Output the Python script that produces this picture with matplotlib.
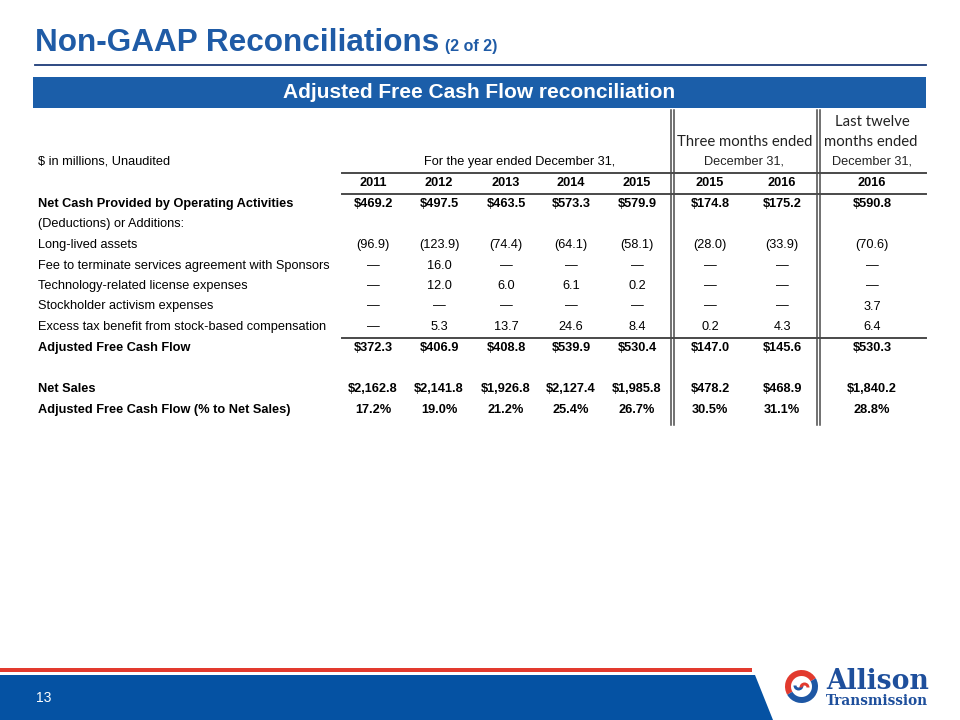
import matplotlib
matplotlib.use("Agg")
import matplotlib.pyplot as plt
from matplotlib.patches import Rectangle, Polygon, Wedge

# ---------------- data ----------------
title = "Non-GAAP Reconciliations"
subtitle = "(2 of 2)"
banner = "Adjusted Free Cash Flow reconciliation"
units_label = "$ in millions, Unaudited"
group_year = "For the year ended December 31,"
group_q_top = "Three months ended"
group_ltm_top = ["Last twelve", "months ended"]
group_date = "December 31,"

col_years = ["2011", "2012", "2013", "2014", "2015", "2015", "2016", "2016"]

row_labels = [
    "Net Cash Provided by Operating Activities",
    "(Deductions) or Additions:",
    "Long-lived assets",
    "Fee to terminate services agreement with Sponsors",
    "Technology-related license expenses",
    "Stockholder activism expenses",
    "Excess tax benefit from stock-based compensation",
    "Adjusted Free Cash Flow",
    "",
    "Net Sales",
    "Adjusted Free Cash Flow (% to Net Sales)",
]
row_bold = [True, False, False, False, False, False, False, True, False, True, True]
row_kind = ["dollar", None, "neg", "plain", "plain", "plain", "plain", "dollar", None, "dollar", "pct"]

net_cash_ops = [469.2, 497.5, 463.5, 573.3, 579.9, 174.8, 175.2, 590.8]
long_lived = [96.9, 123.9, 74.4, 64.1, 58.1, 28.0, 33.9, 70.6]
fee_sponsors = [None, 16.0, None, None, None, None, None, None]
tech_license = [None, 12.0, 6.0, 6.1, 0.2, None, None, None]
stockholder = [None, None, None, None, None, None, None, 3.7]
excess_tax = [None, 5.3, 13.7, 24.6, 8.4, 0.2, 4.3, 6.4]
adj_fcf = [372.3, 406.9, 408.8, 539.9, 530.4, 147.0, 145.6, 530.3]
net_sales = [2162.8, 2141.8, 1926.8, 2127.4, 1985.8, 478.2, 468.9, 1840.2]
fcf_pct = [17.2, 19.0, 21.2, 25.4, 26.7, 30.5, 31.1, 28.8]

row_values = [net_cash_ops, None, long_lived, fee_sponsors, tech_license,
              stockholder, excess_tax, adj_fcf, None, net_sales, fcf_pct]

page_number = "13"
logo_top = "Allison"
logo_bottom = "Transmission"

# ---------------- layout / style ----------------
BLUE_T = "#1F5BA6"
BANNER = "#1B5EA9"
FOOT_BLUE = "#0552A3"
RED = "#E23A2E"
LINE = "#4a4a4a"
FONT = "Liberation Sans"
HFONT = "Lato"
FS = 9.2

fig = plt.figure(figsize=(9.6, 7.2), dpi=100)
ax = fig.add_axes([0, 0, 1, 1])
ax.set_xlim(0, 960)
ax.set_ylim(720, 0)
ax.axis("off")

# title
ax.text(35, 51, title, fontsize=22.7, fontweight="bold", color=BLUE_T,
        family=FONT, ha="left", va="baseline")
ax.text(445, 51, subtitle, fontsize=11.5, fontweight="bold", color=BLUE_T,
        family=FONT, ha="left", va="baseline")
ax.plot([35, 926], [64.5, 64.5], color="#1C3C78", lw=1.3)

# banner
ax.add_patch(Rectangle((33, 77), 893, 31, color=BANNER, lw=0))
ax.text(479, 93, banner, fontsize=15, fontweight="bold", color="white",
        family=FONT, ha="center", va="center")

# column positions
col_x = [373, 439, 506, 571, 637, 710, 782, 872]
label_x = 38
row_y = [204, 224.5, 245, 266, 286, 306.5, 327, 348, 368, 389, 410]

# header texts
HC = "#222222"
ax.text(872, 122, group_ltm_top[0], fontsize=10.7, family=HFONT, ha="center", va="center", color=HC)
ax.text(871, 142, group_ltm_top[1], fontsize=10.7, family=HFONT, ha="center", va="center", color=HC)
ax.text(745, 142, group_q_top, fontsize=10.7, family=HFONT, ha="center", va="center", color=HC)
ax.text(label_x, 162, units_label, fontsize=FS, family=FONT, ha="left", va="center", color="black")
ax.text(520, 162, group_year, fontsize=FS, family=FONT, ha="center", va="center", color="black")
ax.text(744, 162, group_date, fontsize=FS, family=FONT, ha="center", va="center", color=HC)
ax.text(872, 162, group_date, fontsize=FS, family=FONT, ha="center", va="center", color=HC)

for x, yr in zip(col_x, col_years):
    ax.text(x, 183, yr, fontsize=FS, fontweight="bold", family=FONT,
            ha="center", va="center", color="black")

# horizontal rules
for yy in (172.5, 193.5, 337.5):
    ax.plot([342, 926], [yy, yy], color=LINE, lw=1.4)

# double vertical rules
for xx in (670.5, 817):
    for d in (0, 3):
        ax.plot([xx + d, xx + d], [110, 425], color=LINE, lw=1.1)


def fmt(v, kind):
    if v is None:
        return "\u2014"
    if kind == "dollar":
        return "${:,.1f}".format(v)
    if kind == "neg":
        return "({:,.1f})".format(v)
    if kind == "pct":
        return "{:.1f}%".format(v)
    return "{:,.1f}".format(v)


for lab, bold, kind, vals, y in zip(row_labels, row_bold, row_kind, row_values, row_y):
    if lab:
        ax.text(label_x, y, lab, fontsize=FS, family=FONT,
                fontweight="bold" if bold else "normal",
                ha="left", va="center", color="black")
    if vals is not None:
        for x, v in zip(col_x, vals):
            ax.text(x, y, fmt(v, kind), fontsize=FS, family=FONT,
                    fontweight="bold" if bold else "normal",
                    ha="center", va="center", color="black")

# footer
ax.add_patch(Rectangle((0, 668), 752, 4, color=RED, lw=0))
ax.add_patch(Polygon([(0, 675), (755, 675), (773, 720), (0, 720)],
                     closed=True, color=FOOT_BLUE, lw=0))
ax.text(36, 698, page_number, fontsize=10, family=FONT, color="white",
        ha="left", va="center")

# logo
cx, cy, r = 801.5, 686.5, 16.5
ax.add_patch(Wedge((cx, cy), r, 150, 330, width=6, color=RED, lw=0))
ax.add_patch(Wedge((cx, cy), r, 330, 150, width=6, color="#1E57A4", lw=0))
ax.add_patch(Wedge((cx - 3, cy - 1), 5, 0, 180, width=3, color="#1E57A4", lw=0))
ax.add_patch(Wedge((cx + 3, cy + 1), 5, 180, 360, width=3, color=RED, lw=0))
ax.text(826, 689, logo_top, fontsize=19.2, fontweight="bold", family="DejaVu Serif",
        color="#1E4F9C", ha="left", va="baseline")
ax.text(826, 705, logo_bottom, fontsize=9.8, fontweight="bold", family="DejaVu Serif",
        color="#1E4F9C", ha="left", va="baseline")

fig.savefig("out.png", dpi=100)
